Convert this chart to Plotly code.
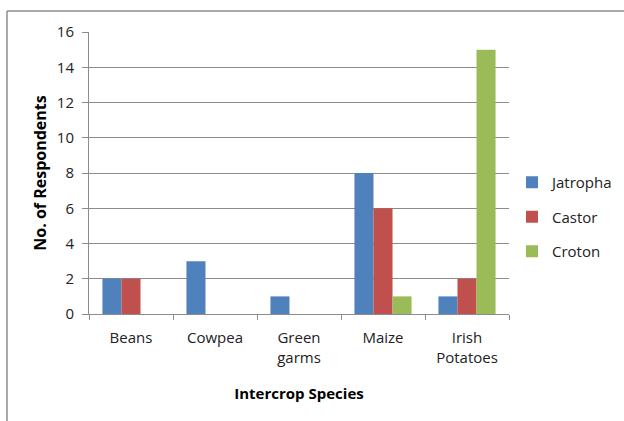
import plotly.graph_objects as go

# Intercrop species reported by respondents, per host tree
categories = ["Beans", "Cowpea", "Green<br>garms", "Maize", "Irish<br>Potatoes"]
jatropha = [2, 3, 1, 8, 1]
castor = [2, 0, 0, 6, 2]
croton = [0, 0, 0, 1, 15]
y_ticks = [0, 2, 4, 6, 8, 10, 12, 14, 16]

FONT = "Open Sans"
FS = 15
W, H = 624, 421
L, R, T, B = 89, 115, 32, 107
pw, ph = W - L - R, H - T - B


def px_x(px):
    return (px - L) / pw


def px_y(py):
    return (H - B - py) / ph


fig = go.Figure()
for name, vals, color in [
    ("Jatropha", jatropha, "#4F81BD"),
    ("Castor", castor, "#C0504D"),
    ("Croton", croton, "#9BBB59"),
]:
    fig.add_trace(go.Bar(
        x=categories, y=vals, name=name, marker_color=color,
        marker_line_width=0, legendgroup=name,
    ))

# outer chart frame (left and top edges)
fig.add_shape(type="line", xref="paper", yref="paper",
              x0=px_x(7), y0=px_y(421), x1=px_x(7), y1=px_y(11),
              line=dict(color="#8c8c8c", width=1.5))
fig.add_shape(type="line", xref="paper", yref="paper",
              x0=px_x(7), y0=px_y(11), x1=px_x(624), y1=px_y(11),
              line=dict(color="#8c8c8c", width=1.5))

fig.update_layout(
    width=W, height=H,
    margin=dict(l=L, r=R, t=T, b=B, pad=0, autoexpand=False),
    paper_bgcolor="white", plot_bgcolor="white",
    barmode="group", bargap=0.32, bargroupgap=0,
    font=dict(family=FONT, size=FS, color="#222"),
    showlegend=True,
    legend=dict(
        xref="container", yref="container",
        x=512 / W, y=1 - 166 / H, xanchor="left", yanchor="top",
        font=dict(family=FONT, size=FS, color="#222"),
        tracegroupgap=12, itemwidth=30,
    ),
)
fig.update_xaxes(
    showline=True, linecolor="#8c8c8c", linewidth=1,
    ticks="outside", tickson="boundaries", ticklen=5, tickcolor="#8c8c8c",
    ticklabelstandoff=10,
    tickfont=dict(family=FONT, size=FS, color="#222"),
    title=dict(text="<b>Intercrop Species</b>", standoff=22,
               font=dict(family=FONT, size=15, color="#000")),
)
fig.update_yaxes(
    range=[0, 16], tickvals=y_ticks,
    showline=True, linecolor="#8c8c8c", linewidth=1,
    showgrid=True, gridcolor="#8c8c8c", gridwidth=1,
    ticks="outside", ticklen=6, tickcolor="#8c8c8c",
    ticklabelstandoff=5,
    tickfont=dict(family=FONT, size=FS, color="#222"),
    title=dict(text="<b>No. of Respondents</b>", standoff=6,
               font=dict(family=FONT, size=16, color="#000")),
    zeroline=False,
)

fig.write_html("out.html")
